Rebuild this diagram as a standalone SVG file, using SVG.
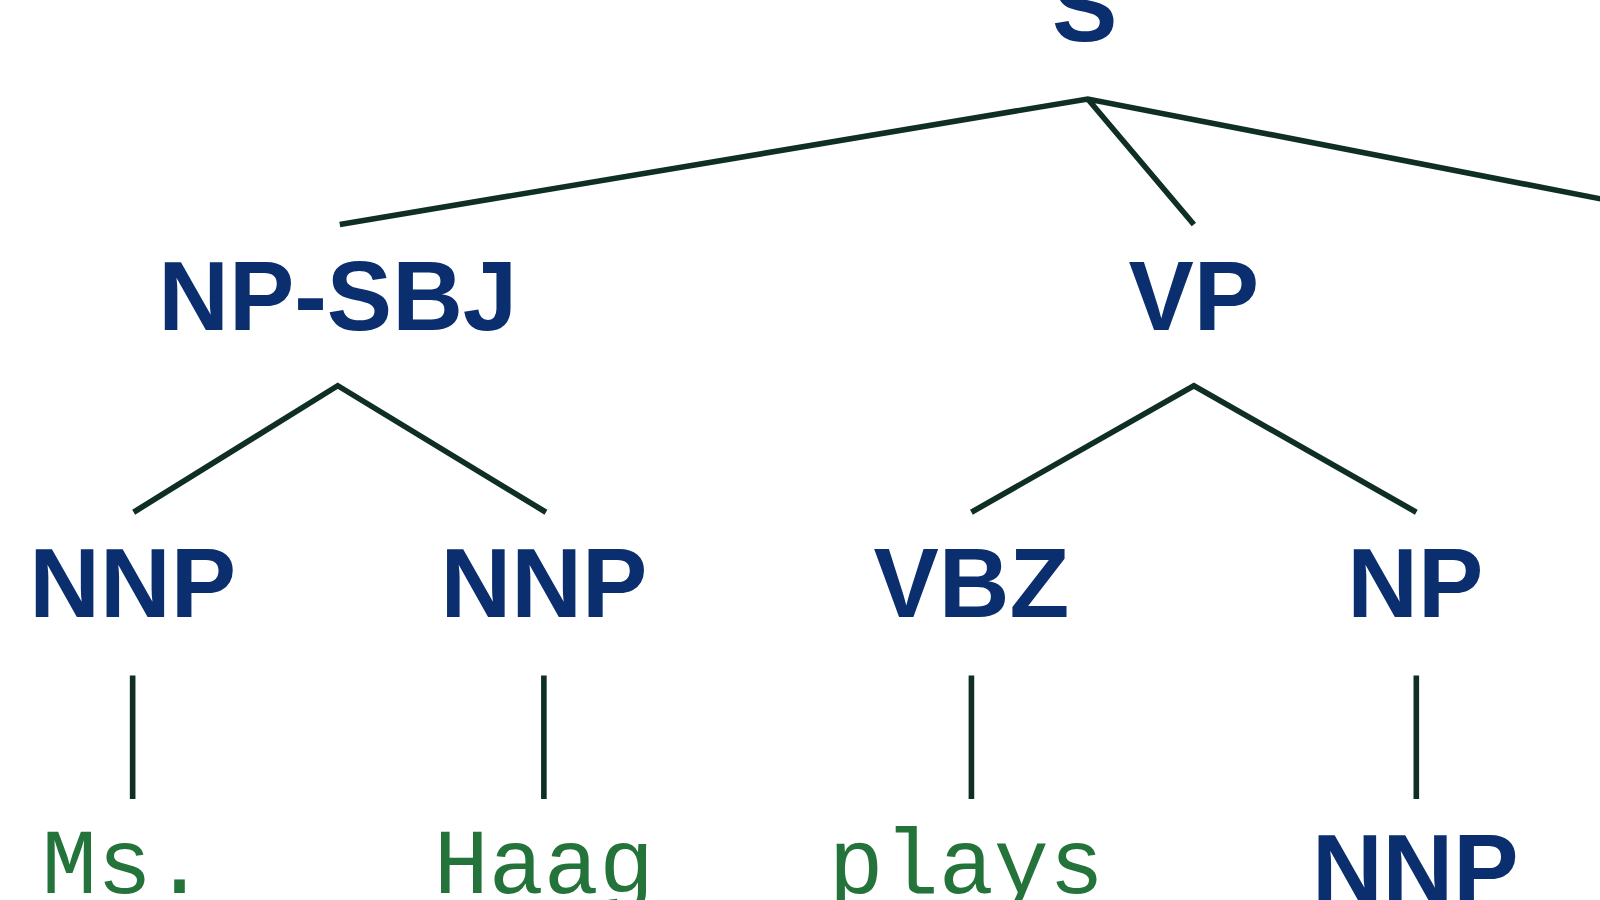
<svg xmlns="http://www.w3.org/2000/svg" width="1600" height="900" viewBox="0 0 1600 900">
<style>
.n{font-family:"Liberation Sans",Arial,sans-serif;font-weight:bold;font-size:96px;fill:#0a2e6e;text-anchor:middle}
.w{font-family:"Liberation Mono","Courier New",monospace;font-size:90px;fill:#23733a;text-anchor:middle}
.e{stroke:#0f2e24;stroke-width:5.5;fill:none}
</style>
<rect width="1600" height="900" fill="#fff"/>
<g transform="scale(1.0204)">
<g id="edges">
<path class="e" d="M333,220 L1066,97 L1600,201 M1066,97 L1170,220"/>
<path class="e" d="M131,502 L331,378 L535,502"/>
<path class="e" d="M952,502 L1170,378 L1388,502"/>
<path class="e" d="M130,662 V783 M533,662 V783 M952,662 V783 M1388,662 V783"/>
</g>
<g id="S"><text class="n" x="1063" y="40">S</text></g>
<g id="NP-SBJ"><text class="n" x="331" y="323">NP-SBJ</text></g>
<g id="VP"><text class="n" x="1170" y="323">VP</text></g>
<g id="NNP1"><text class="n" x="130" y="605">NNP</text></g>
<g id="NNP2"><text class="n" x="533" y="605">NNP</text></g>
<g id="VBZ"><text class="n" x="952" y="605">VBZ</text></g>
<g id="NP"><text class="n" x="1387" y="605">NP</text></g>
<g id="NNP3"><text class="n" x="1387" y="885">NNP</text></g>
<g id="Ms"><text class="w" x="122" y="875">Ms.</text></g>
<g id="Haag"><text class="w" x="533" y="875">Haag</text></g>
<g id="plays"><text class="w" x="947" y="875">plays</text></g>
</g>
</svg>
